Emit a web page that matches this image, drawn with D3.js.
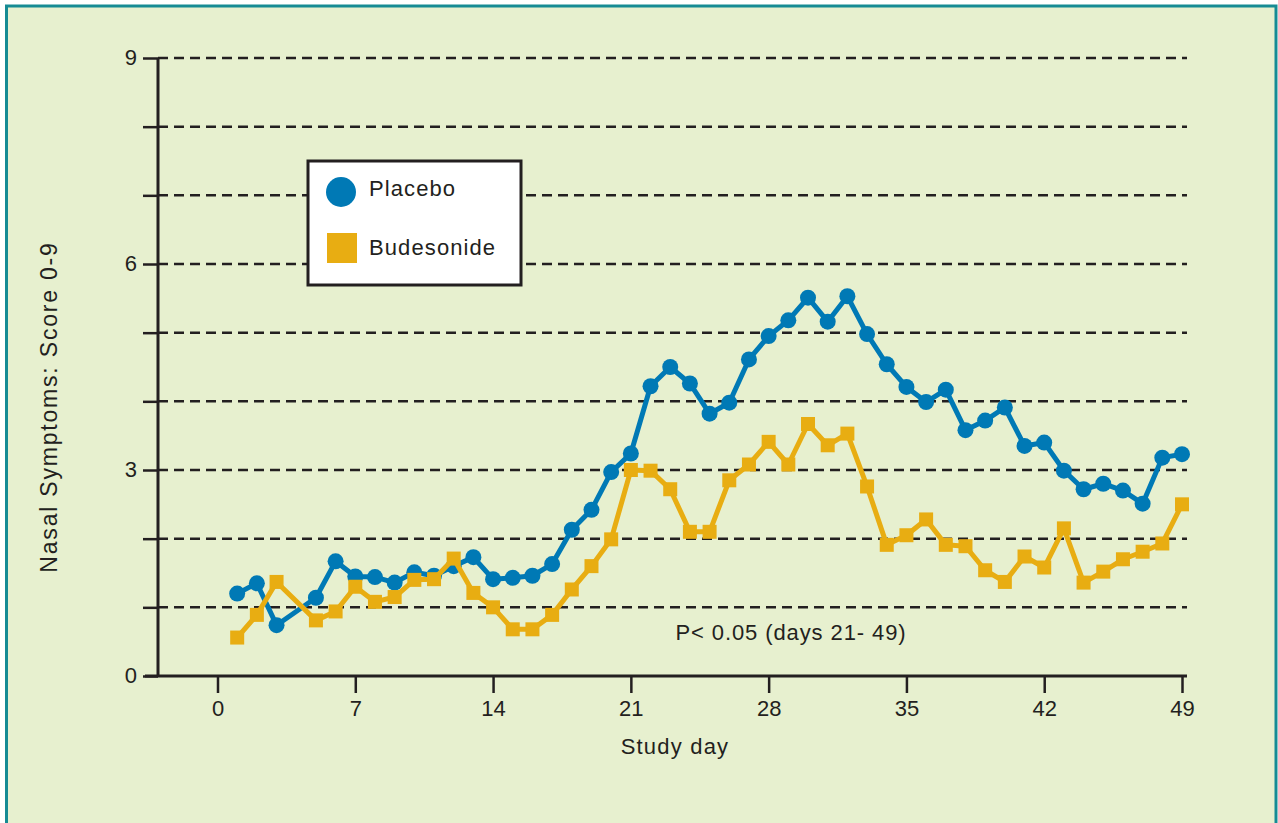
<!DOCTYPE html>
<html>
<head>
<meta charset="utf-8">
<script src="https://cdn.jsdelivr.net/npm/d3@7"></script>
<style>
  html, body { margin: 0; padding: 0; background: #fff; }
  svg { display: block; font-family: "Liberation Sans", Arial, sans-serif; }
</style>
</head>
<body>
<svg id="chart" width="1278" height="823"></svg>
<script>
// study days with observations (no point on day 4)
var days = [1,2,3,5,6,7,8,9,10,11,12,13,14,15,16,17,18,19,20,21,22,23,24,25,26,27,28,29,30,
  31,32,33,34,35,36,37,38,39,40,41,42,43,44,45,46,47,48,49];
var placebo = [1.20,1.35,0.74,1.14,1.67,1.45,1.44,1.36,1.51,1.46,1.60,1.73,1.41,1.43,1.46,1.63,
  2.13,2.42,2.97,3.24,4.22,4.50,4.26,3.82,3.98,4.61,4.95,5.18,5.51,5.16,5.53,4.98,4.54,4.21,
  3.99,4.17,3.58,3.72,3.91,3.35,3.40,2.99,2.72,2.80,2.70,2.51,3.18,3.23];
var budesonide = [0.56,0.89,1.37,0.81,0.94,1.30,1.08,1.15,1.40,1.41,1.71,1.21,1.00,0.68,0.68,0.89,
  1.26,1.60,1.99,3.00,2.99,2.72,2.10,2.10,2.85,3.08,3.41,3.08,3.67,3.36,3.53,2.76,1.91,2.05,
  2.28,1.91,1.89,1.54,1.37,1.74,1.58,2.15,1.36,1.52,1.70,1.81,1.93,2.50];
var xTicks = [0,7,14,21,28,35,42,49];
var yTicks = [0,1,2,3,4,5,6,7,8,9];
var yLabels = [0,3,6,9];
var seriesNames = ["Placebo", "Budesonide"];

var ink = "#231f20", blue = "#0079b5", gold = "#e8ad12";
var svg = d3.select("#chart");

// frame
svg.append("rect").attr("x", 6.5).attr("y", 6).attr("width", 1269.5).attr("height", 830)
  .attr("fill", "#e7f0cf").attr("stroke", "#168b94").attr("stroke-width", 3);

var x = d3.scaleLinear().domain([0, 49]).range([217.5, 1182]);
var y = d3.scaleLinear().domain([0, 9]).range([676, 58]);
var axisX = 158, rightEnd = 1187;

// dashed grid
svg.append("g").selectAll("line").data(yTicks.filter(function(t){ return t > 0; })).join("line")
  .attr("x1", axisX).attr("x2", rightEnd)
  .attr("y1", function(d){ return y(d); }).attr("y2", function(d){ return y(d); })
  .attr("stroke", ink).attr("stroke-width", 2.5).attr("stroke-dasharray", "10,6");

// y axis
var yAxis = d3.axisLeft(y).tickValues(yTicks).tickSize(15)
  .tickFormat(function(d){ return yLabels.indexOf(d) >= 0 ? d : ""; });
var gy = svg.append("g").attr("transform", "translate(" + axisX + ",0)").call(yAxis);
gy.select(".domain").remove();
gy.append("line").attr("x1", 0).attr("x2", 0).attr("y1", y(9)).attr("y2", y(0))
  .attr("stroke", ink).attr("stroke-width", 3);
gy.selectAll(".tick line").attr("stroke", ink).attr("stroke-width", 2.5);
gy.selectAll(".tick text").attr("x", -21).attr("dy", "0.28em")
  .attr("fill", ink).style("font-size", "22px").style("font-family", "Liberation Sans, Arial, sans-serif");

// x axis
var xAxis = d3.axisBottom(x).tickValues(xTicks).tickSize(17);
var gx = svg.append("g").attr("transform", "translate(0," + y(0) + ")").call(xAxis);
gx.select(".domain").remove();
gx.append("line").attr("x1", 145).attr("x2", rightEnd).attr("y1", 0).attr("y2", 0)
  .attr("stroke", ink).attr("stroke-width", 3);
gx.selectAll(".tick line").attr("stroke", ink).attr("stroke-width", 2.5);
gx.selectAll(".tick text").attr("y", 24).attr("dy", "0.71em")
  .attr("fill", ink).style("font-size", "22px").style("font-family", "Liberation Sans, Arial, sans-serif");

// titles
svg.append("text").attr("x", 675).attr("y", 754).attr("text-anchor", "middle")
  .attr("fill", ink).style("font-size", "22px").style("letter-spacing", "1.2px").text("Study day");
svg.append("text").attr("transform", "translate(57,407) rotate(-90)").attr("text-anchor", "middle")
  .attr("fill", ink).style("font-size", "23px").style("letter-spacing", "1.8px")
  .text("Nasal Symptoms: Score 0-9");
svg.append("text").attr("x", 791).attr("y", 640).attr("text-anchor", "middle")
  .attr("fill", ink).style("font-size", "22px").style("letter-spacing", "0.9px")
  .text("P< 0.05 (days 21- 49)");

var line = d3.line().x(function(d){ return x(d[0]); }).y(function(d){ return y(d[1]); });
var placeboPts = days.map(function(d, i){ return [d, placebo[i]]; });
var budPts = days.map(function(d, i){ return [d, budesonide[i]]; });

// placebo
svg.append("path").datum(placeboPts).attr("d", line).attr("fill", "none")
  .attr("stroke", blue).attr("stroke-width", 5).attr("stroke-linejoin", "round");
svg.append("g").selectAll("circle").data(placeboPts).join("circle")
  .attr("cx", function(d){ return x(d[0]); }).attr("cy", function(d){ return y(d[1]); })
  .attr("r", 8).attr("fill", blue);

// budesonide
svg.append("path").datum(budPts).attr("d", line).attr("fill", "none")
  .attr("stroke", gold).attr("stroke-width", 5).attr("stroke-linejoin", "round");
svg.append("g").selectAll("rect").data(budPts).join("rect")
  .attr("x", function(d){ return x(d[0]) - 7; }).attr("y", function(d){ return y(d[1]) - 7; })
  .attr("width", 14).attr("height", 14).attr("fill", gold);

// legend
var lg = svg.append("g");
lg.append("rect").attr("x", 308).attr("y", 161).attr("width", 213).attr("height", 124)
  .attr("fill", "#fff").attr("stroke", ink).attr("stroke-width", 3);
lg.append("circle").attr("cx", 341).attr("cy", 192).attr("r", 15).attr("fill", blue);
lg.append("rect").attr("x", 327).attr("y", 233).attr("width", 30).attr("height", 30).attr("fill", gold);
lg.selectAll("text").data(seriesNames).join("text")
  .attr("x", 369).attr("y", function(d, i){ return 196 + i * 59; })
  .attr("fill", ink).style("font-size", "22px").style("letter-spacing", "1.1px")
  .text(function(d){ return d; });
</script>
</body>
</html>
